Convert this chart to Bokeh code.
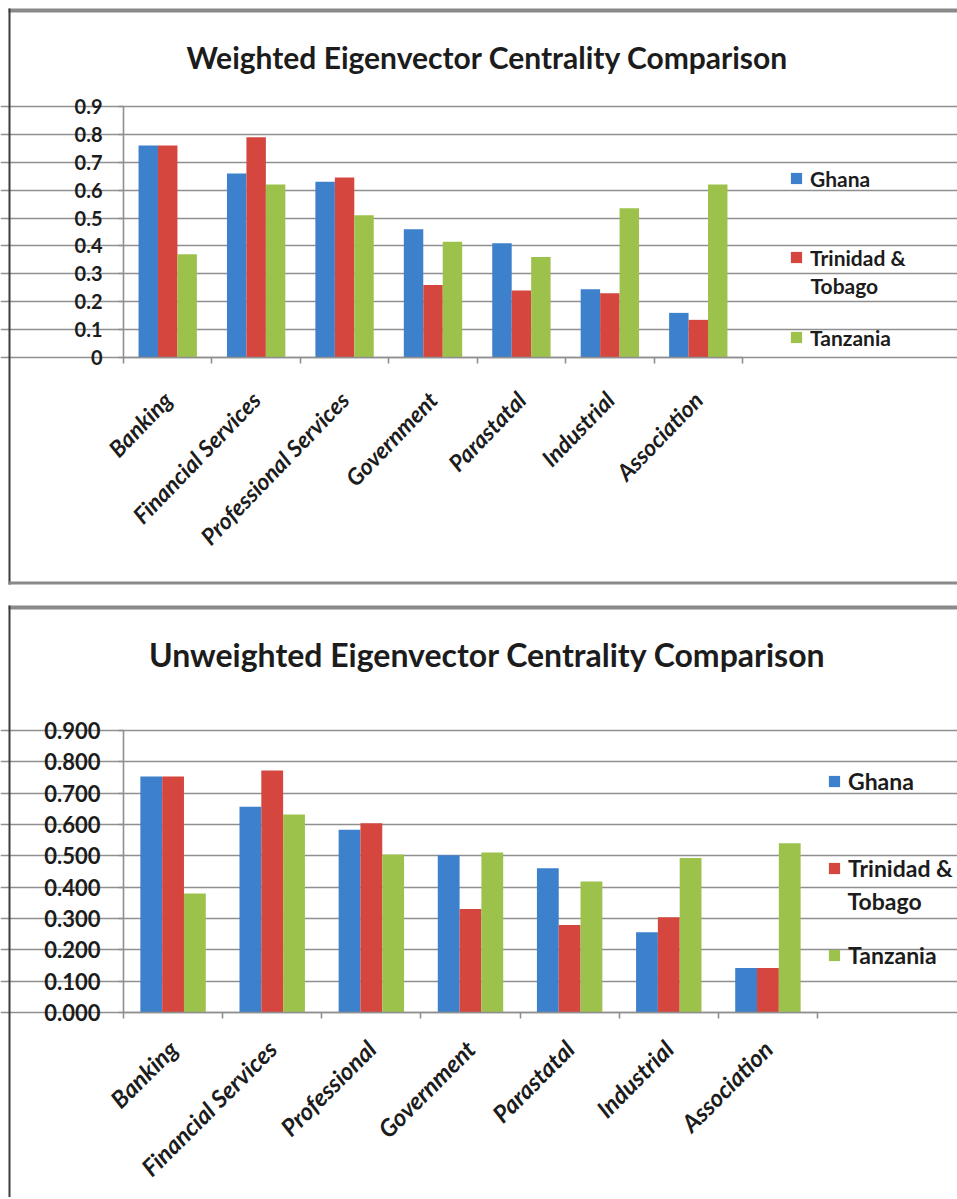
import math
from bokeh.plotting import figure
from bokeh.models import Range1d, FixedTicker, Legend, LegendItem, Label
from bokeh.layouts import column
from bokeh.embed import file_html
from bokeh.resources import INLINE

# ---------------- data ----------------
categories_weighted = ["Banking", "Financial Services", "Professional Services",
                       "Government", "Parastatal", "Industrial", "Association"]
categories_unweighted = ["Banking", "Financial Services", "Professional",
                         "Government", "Parastatal", "Industrial", "Association"]
series_names = ["Ghana", "Trinidad & Tobago", "Tanzania"]
legend_lines = [["Ghana"], ["Trinidad &", "Tobago"], ["Tanzania"]]

weighted_ghana = [0.76, 0.66, 0.63, 0.46, 0.41, 0.245, 0.16]
weighted_trinidad = [0.76, 0.79, 0.645, 0.26, 0.24, 0.23, 0.135]
weighted_tanzania = [0.37, 0.62, 0.51, 0.415, 0.36, 0.535, 0.62]

unweighted_ghana = [0.753, 0.657, 0.583, 0.502, 0.460, 0.256, 0.142]
unweighted_trinidad = [0.753, 0.772, 0.604, 0.330, 0.279, 0.304, 0.142]
unweighted_tanzania = [0.380, 0.632, 0.504, 0.511, 0.418, 0.493, 0.540]

weighted_yticks = [0, 0.1, 0.2, 0.3, 0.4, 0.5, 0.6, 0.7, 0.8, 0.9]
weighted_ylabels = ["0", "0.1", "0.2", "0.3", "0.4", "0.5", "0.6", "0.7", "0.8", "0.9"]
unweighted_yticks = [0, 0.1, 0.2, 0.3, 0.4, 0.5, 0.6, 0.7, 0.8, 0.9]
unweighted_ylabels = ["0.000", "0.100", "0.200", "0.300", "0.400", "0.500",
                      "0.600", "0.700", "0.800", "0.900"]

titles = ["Weighted Eigenvector Centrality Comparison",
          "Unweighted Eigenvector Centrality Comparison"]

# ---------------- style ----------------
FONT = "Lato"
COLORS = ["#3d80cc", "#d5463f", "#9dc24c"]
GRID = "#8f8f8f"
TEXT = "#1c1c1c"
BORDER_GREY = "#8a8a8a"
BORDER_DARK = "#3c3c3c"
BAR_W = 0.22
OFFSETS = [-0.22, 0.0, 0.22]
W = 957


def build(title, cats, values, yticks, ylabels, cfg):
    n = len(cats)
    H = cfg["height"]
    # plot-area box in canvas pixels -> data ranges for the full-canvas frame
    bl, br, bt, bb = cfg["box"]
    kx = (br - bl) / n
    ky = (bb - bt) / yticks[-1]
    x0 = -bl / kx
    x1 = (W - bl) / kx
    ytop = yticks[-1] + bt / ky
    ybot = -(H - bb) / ky

    def X(px):
        return x0 + px / kx

    def Y(py):
        return ytop - py / ky

    p = figure(width=W, height=H, title=None,
               x_range=Range1d(x0, x1), y_range=Range1d(ybot, ytop),
               output_backend="svg", toolbar_location=None,
               min_border=0, min_border_left=0, min_border_right=0,
               min_border_top=0, min_border_bottom=0)
    p.outline_line_color = None
    p.background_fill_color = "white"
    p.border_fill_color = "white"

    # chart-box borders (decoration)
    for (l, r, t, b, c) in cfg["borders"]:
        p.quad(left=X(l), right=X(r), top=Y(t), bottom=Y(b),
               fill_color=c, line_color=None)

    renderers = []
    for k, vals in enumerate(values):
        xs = [i + 0.5 + OFFSETS[k] for i in range(n)]
        r = p.vbar(x=xs, top=vals, bottom=0, width=BAR_W,
                   fill_color=COLORS[k], line_color=None)
        renderers.append(r)

    # grid
    p.xgrid.visible = False
    p.ygrid.ticker = FixedTicker(ticks=yticks)
    p.ygrid.grid_line_color = GRID
    p.ygrid.grid_line_width = 1.6
    p.ygrid.bounds = (0, n)

    # y axis
    ya = p.yaxis[0]
    ya.fixed_location = 0
    ya.bounds = (0, yticks[-1])
    ya.ticker = FixedTicker(ticks=yticks)
    ya.major_label_overrides = dict(zip(yticks, ylabels))
    ya.axis_line_color = GRID
    ya.axis_line_width = 1.6
    ya.major_tick_line_color = GRID
    ya.major_tick_line_width = 1.6
    ya.major_tick_out = 5
    ya.major_tick_in = 0
    ya.minor_tick_line_color = None
    ya.major_label_standoff = cfg["ystand"]
    ya.major_label_text_font = FONT
    ya.major_label_text_font_style = "bold"
    ya.major_label_text_font_size = cfg["yfs"]
    ya.major_label_text_color = TEXT

    # x axis
    xa = p.xaxis[0]
    xa.fixed_location = 0
    xa.bounds = (0, n)
    xa.ticker = FixedTicker(ticks=[i + 0.5 for i in range(n)],
                            minor_ticks=list(range(n + 1)))
    xa.major_label_overrides = {i + 0.5: c for i, c in enumerate(cats)}
    xa.axis_line_color = GRID
    xa.axis_line_width = 1.6
    xa.major_tick_line_color = None
    xa.major_tick_out = 0
    xa.major_tick_in = 0
    xa.minor_tick_line_color = GRID
    xa.minor_tick_line_width = 1.6
    xa.minor_tick_out = 6
    xa.minor_tick_in = 0
    xa.major_label_orientation = math.radians(cfg["angle"])
    xa.major_label_standoff = cfg["xstand"]
    xa.major_label_text_font = FONT
    xa.major_label_text_font_style = "bold italic"
    xa.major_label_text_font_size = cfg["xfs"]
    xa.major_label_text_color = TEXT

    # title
    tx, tyb = cfg["title_pos"]
    p.add_layout(Label(x=tx, y=H - tyb, x_units="screen", y_units="screen",
                       text=title, text_align="center", text_baseline="middle",
                       text_font=FONT, text_font_style="bold",
                       text_font_size=cfg["tfs"], text_color=TEXT))

    # legend (one block per series, positioned like the original);
    # square-marker proxies (kept outside the visible range) give square swatches
    GH = 30
    for k in range(len(renderers)):
        lines = legend_lines[k]
        proxy = p.scatter(x=[x0 - 5], y=[ybot - 5], marker="square", size=12,
                          fill_color=COLORS[k], line_color=None)
        sq_x, cy = cfg["legend_pos"][k]
        lg = Legend(items=[LegendItem(label=lines[0], renderers=[proxy])],
                    location=(sq_x - 14, H - (cy + GH / 2)),
                    padding=0, margin=0, spacing=0,
                    border_line_color=None, background_fill_alpha=0,
                    glyph_width=28, glyph_height=GH, label_height=GH,
                    label_standoff=0,
                    label_text_font=FONT, label_text_font_style="bold",
                    label_text_font_size=cfg["lfs"], label_text_color=TEXT)
        p.add_layout(lg)
        for extra in lines[1:]:
            ex, ey = cfg["legend_extra"]
            p.add_layout(Label(x=ex, y=H - ey, x_units="screen", y_units="screen",
                               text=extra, text_align="left", text_baseline="middle",
                               text_font=FONT, text_font_style="bold",
                               text_font_size=cfg["lfs"], text_color=TEXT))
    return p


cfg1 = dict(height=597, box=(123, 742, 106, 357),
            borders=[(8, 957, 8, 12, BORDER_GREY), (8, 10, 8, 584, BORDER_DARK),
                     (8, 957, 581, 584, BORDER_GREY)],
            ystand=16, yfs="20px", xstand=32, xfs="23px", angle=46,
            title_pos=(487, 56), tfs="30px",
            legend_pos=[(796, 178), (796, 257), (796, 337)],
            legend_extra=(810, 285), lfs="21px")

cfg2 = dict(height=600, box=(123, 817, 133, 415),
            borders=[(8, 957, 8, 12, BORDER_GREY), (8, 10, 8, 600, BORDER_DARK)],
            ystand=18, yfs="22px", xstand=26, xfs="24px", angle=45,
            title_pos=(487, 57), tfs="32px",
            legend_pos=[(834, 184), (834, 271), (834, 358)],
            legend_extra=(847, 303), lfs="23px")

p1 = build(titles[0], categories_weighted,
           [weighted_ghana, weighted_trinidad, weighted_tanzania],
           weighted_yticks, weighted_ylabels, cfg1)
p2 = build(titles[1], categories_unweighted,
           [unweighted_ghana, unweighted_trinidad, unweighted_tanzania],
           unweighted_yticks, unweighted_ylabels, cfg2)

layout = column(p1, p2, spacing=0)

open("out.html", "w").write(file_html(layout, INLINE))
